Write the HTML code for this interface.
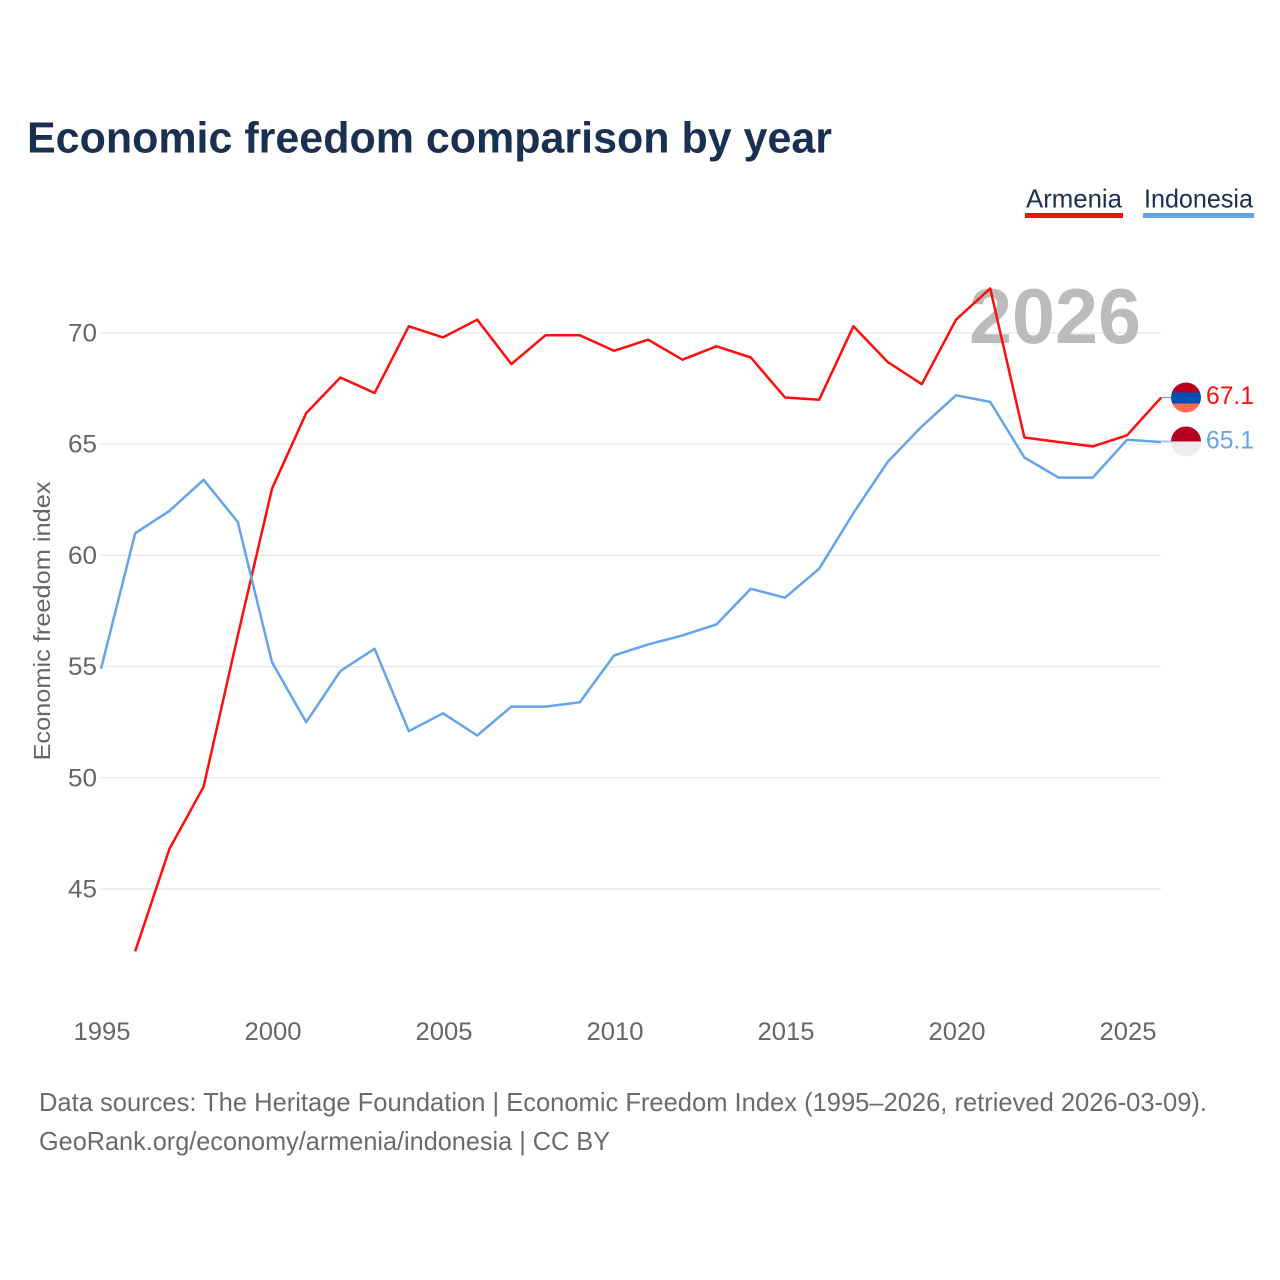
<!DOCTYPE html>
<html lang="en">
<head>
<meta charset="utf-8">
<title>Economic freedom comparison by year</title>
<style>
html,body{margin:0;padding:0;background:#fff;width:1280px;height:1280px;overflow:hidden}
svg{display:block;font-family:"Liberation Sans",sans-serif}
</style>
</head>
<body>
<svg id="chart" xmlns="http://www.w3.org/2000/svg" width="1280" height="1280" viewBox="0 0 1280 1280">
  <rect x="0" y="0" width="1280" height="1280" fill="#ffffff"/>
  <text x="27" y="152.5" font-size="44" font-weight="700" fill="#1a3050" textLength="805" lengthAdjust="spacingAndGlyphs">Economic freedom comparison by year</text>
  <g id="grid"></g>
  <g id="yticks"></g>
  <g id="xticks"></g>
  <text transform="translate(50,621) rotate(-90)" text-anchor="middle" font-size="23" fill="#666666" textLength="279" lengthAdjust="spacingAndGlyphs">Economic freedom index</text>
  <text x="969" y="343" font-size="78" font-weight="700" fill="#bbbbbb" textLength="172" lengthAdjust="spacingAndGlyphs">2026</text>
  <g id="series"></g>
  <g id="flags"></g>
  <g>
    <g>
      <text x="1026" y="207.5" font-size="26" fill="#1a3050" textLength="96" lengthAdjust="spacingAndGlyphs">Armenia</text>
      <rect x="1025" y="213" width="98" height="5" fill="#ff0d0d"/>
    </g>
    <g>
      <text x="1144" y="207.5" font-size="26" fill="#1a3050" textLength="109" lengthAdjust="spacingAndGlyphs">Indonesia</text>
      <rect x="1143" y="213" width="111" height="5" fill="#64a5ea"/>
    </g>
  </g>
  <text x="39" y="1111" font-size="26" fill="#6b6b6b" textLength="1168" lengthAdjust="spacingAndGlyphs">Data sources: The Heritage Foundation | Economic Freedom Index (1995–2026, retrieved 2026-03-09).</text>
  <text x="39" y="1150" font-size="26" fill="#6b6b6b" textLength="571" lengthAdjust="spacingAndGlyphs">GeoRank.org/economy/armenia/indonesia | CC BY</text>
</svg>
<script>
const years = [1995,1996,1997,1998,1999,2000,2001,2002,2003,2004,2005,2006,2007,2008,2009,2010,2011,2012,2013,2014,2015,2016,2017,2018,2019,2020,2021,2022,2023,2024,2025,2026];
const armeniaValues = [null,42.2,46.8,49.6,56.4,63,66.4,68,67.3,70.3,69.8,70.6,68.6,69.9,69.9,69.2,69.7,68.8,69.4,68.9,67.1,67,70.3,68.7,67.7,70.6,72,65.3,65.1,64.9,65.4,67.1];
const indonesiaValues = [54.9,61,62,63.4,61.5,55.2,52.5,54.8,55.8,52.1,52.9,51.9,53.2,53.2,53.4,55.5,56,56.4,56.9,58.5,58.1,59.4,61.9,64.2,65.8,67.2,66.9,64.4,63.5,63.5,65.2,65.1];
const yTickValues = [45,50,55,60,65,70];
const xTickValues = [1995,2000,2005,2010,2015,2020,2025];

const NS = 'http://www.w3.org/2000/svg';
const xScale = function (year) { return 101 + (year - 1995) * 34.2; };
const yScale = function (value) { return 889 - (value - 45) * 22.24; };
const plotRight = xScale(2026);

function make(tag, parent, attrs) {
  const el = document.createElementNS(NS, tag);
  Object.keys(attrs).forEach(function (k) { el.setAttribute(k, attrs[k]); });
  parent.appendChild(el);
  return el;
}

const gridGroup = document.getElementById('grid');
const yTickGroup = document.getElementById('yticks');
yTickValues.forEach(function (v) {
  const line = make('line', gridGroup, {x1: 101, x2: plotRight, y1: yScale(v), y2: yScale(v), stroke: '#e8e8e8', 'stroke-width': 1.3});
  
  
  const label = make('text', yTickGroup, {x: 97, y: yScale(v) + 8.5, 'text-anchor': 'end', 'font-size': 25, fill: '#666666', textLength: 29, lengthAdjust: 'spacingAndGlyphs'});
  
  
  label.textContent = String(v);
});

const xTickGroup = document.getElementById('xticks');
xTickValues.forEach(function (v) {
  const label = make('text', xTickGroup, {x: xScale(v) + 1, y: 1040, 'text-anchor': 'middle', 'font-size': 25, fill: '#666666', textLength: 57, lengthAdjust: 'spacingAndGlyphs'});
  
  
  label.textContent = String(v);
});

function pathFor(values) {
  let d = '';
  values.forEach(function (v, i) {
    if (v === null) return;
    d += (d ? 'L' : 'M') + xScale(years[i]).toFixed(1) + ' ' + yScale(v).toFixed(1);
  });
  return d;
}

const seriesGroup = document.getElementById('series');
const flagGroup = document.getElementById('flags');

const armeniaLine = make('path', seriesGroup, {d: pathFor(armeniaValues), fill: 'none', stroke: '#ff0d0d', 'stroke-width': 2.5, 'stroke-linejoin': 'round'});


const indonesiaLine = make('path', seriesGroup, {d: pathFor(indonesiaValues), fill: 'none', stroke: '#64a5ea', 'stroke-width': 2.5, 'stroke-linejoin': 'round'});



const flagX = 1186;
const flagR = 15;
const armeniaLast = armeniaValues[armeniaValues.length - 1];
const indonesiaLast = indonesiaValues[indonesiaValues.length - 1];
const ay = yScale(armeniaLast);
const iy = yScale(indonesiaLast) - 0.5;

const armeniaConnector = make('line', seriesGroup, {x1: plotRight, x2: flagX - flagR, y1: ay, y2: ay, stroke: '#999999', 'stroke-width': 1.3});


const indonesiaConnector = make('line', seriesGroup, {x1: plotRight, x2: flagX - flagR, y1: iy, y2: iy, stroke: '#a6cbf2', 'stroke-width': 2});



const defs = make('defs', flagGroup, {});
const clipA = make('clipPath', defs, {id: 'clip-armenia'});
make('circle', clipA, {cx: flagX, cy: ay, r: flagR});
const clipI = make('clipPath', defs, {id: 'clip-indonesia'});
make('circle', clipI, {cx: flagX, cy: iy, r: flagR});

const armeniaFlag = make('g', flagGroup, {'clip-path': 'url(#clip-armenia)'});


make('rect', armeniaFlag, {x: flagX - flagR, y: ay - flagR, width: 30, height: 10, fill: '#b5001f'});
make('rect', armeniaFlag, {x: flagX - flagR, y: ay - 5, width: 30, height: 11, fill: '#0050b5'});
make('rect', armeniaFlag, {x: flagX - flagR, y: ay + 6, width: 30, height: 10, fill: '#ff6a50'});

const indonesiaFlag = make('g', flagGroup, {'clip-path': 'url(#clip-indonesia)'});


make('rect', indonesiaFlag, {x: flagX - flagR, y: iy - flagR, width: 30, height: 15, fill: '#b5001f'});
make('rect', indonesiaFlag, {x: flagX - flagR, y: iy, width: 30, height: 15, fill: '#ececec'});

const armeniaLabel = make('text', flagGroup, {x: 1206, y: ay + 6.5, 'font-size': 25, fill: '#ff0d0d', textLength: 48, lengthAdjust: 'spacingAndGlyphs'});


armeniaLabel.textContent = armeniaLast.toFixed(1);
const indonesiaLabel = make('text', flagGroup, {x: 1206, y: iy + 7, 'font-size': 25, fill: '#64a5ea', textLength: 48, lengthAdjust: 'spacingAndGlyphs'});


indonesiaLabel.textContent = indonesiaLast.toFixed(1);
</script>
</body>
</html>
